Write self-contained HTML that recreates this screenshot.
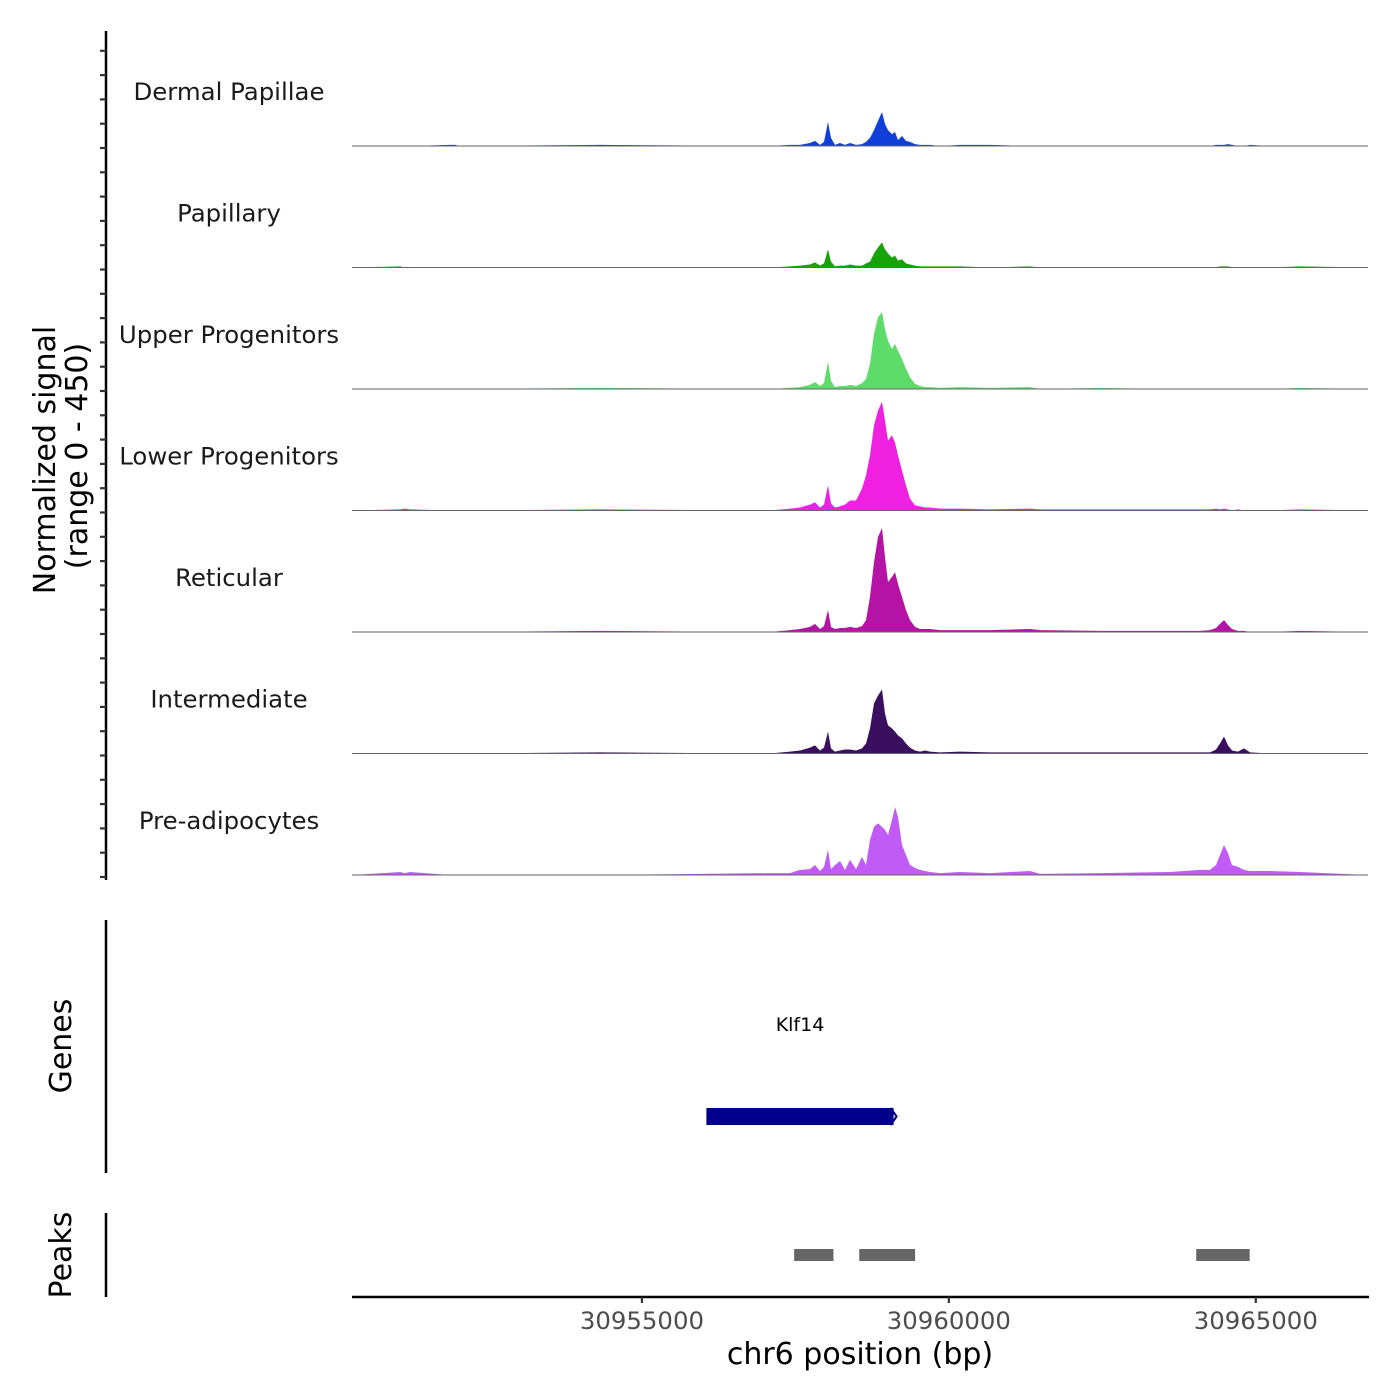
<!DOCTYPE html>
<html><head><meta charset="utf-8"><style>
html,body{margin:0;padding:0;background:#fff;}
svg{display:block;font-family:"DejaVu Sans","Liberation Sans",sans-serif;}
</style></head><body>
<svg id="chart" width="1400" height="1400" viewBox="0 0 1400 1400" xmlns="http://www.w3.org/2000/svg">
<g id="tracks"></g>
<g id="yaxis">
<line x1="106" y1="31" x2="106" y2="880" stroke="#000" stroke-width="2.5"/>
</g>
<text transform="translate(55,460) rotate(-90)" text-anchor="middle" font-size="30" fill="#000">Normalized signal</text>
<text transform="translate(87,456) rotate(-90)" text-anchor="middle" font-size="30" fill="#000">(range 0 - 450)</text>
<g>
<line x1="106" y1="920" x2="106" y2="1173" stroke="#000" stroke-width="2.5"/>
<text transform="translate(71,1046) rotate(-90)" text-anchor="middle" font-size="30" fill="#000">Genes</text>
<g id="genes"></g>
</g>
<g>
<line x1="106" y1="1213" x2="106" y2="1297" stroke="#000" stroke-width="2.5"/>
<text transform="translate(71,1255) rotate(-90)" text-anchor="middle" font-size="30" fill="#000">Peaks</text>
<g id="peaks"></g>
</g>
<g id="xaxis">
<line x1="352" y1="1297" x2="1369" y2="1297" stroke="#000" stroke-width="2.5"/>
</g>
<text x="860" y="1364" text-anchor="middle" font-size="30" fill="#000">chr6 position (bp)</text>
</svg>
<script>
const trackNames = ["Dermal Papillae","Papillary","Upper Progenitors","Lower Progenitors","Reticular","Intermediate","Pre-adipocytes"];
const trackColors = ["#0f3fd8","#16a30a","#5ddc6a","#f020e0","#b513a5","#3b0f5f","#c05cf5"];
const positions = [30950277,30951059,30951140,30951222,30951873,30951955,30952036,30954317,30957086,30957412,30957575,30957738,30957819,30957901,30957966,30958031,30958080,30958145,30958227,30958308,30958389,30958487,30958585,30958650,30958715,30958780,30958846,30958911,30958960,30959008,30959074,30959122,30959171,30959237,30959302,30959367,30959448,30959530,30959611,30959693,30959856,30960181,30960670,30961322,30961485,30962462,30963602,30964091,30964254,30964352,30964417,30964482,30964547,30964612,30964710,30964808,30964905,30965231,30965720,30966828];
const dermalPapillae = [0,0,0,0,4,4,0,4,0,4,4,11,19,4,15,89,30,4,11,4,11,4,7,15,30,59,93,126,81,59,44,52,22,37,19,15,7,4,4,4,0,4,4,0,0,0,0,0,0,4,4,4,7,4,0,0,4,0,0,0];
const papillary = [0,4,0,0,0,0,0,0,0,4,7,11,19,7,15,67,22,4,7,7,11,7,7,15,22,52,74,93,67,52,37,44,26,30,15,11,7,4,4,4,4,4,0,4,0,0,0,0,0,0,4,4,4,0,0,0,0,0,4,0];
const upperProgenitors = [0,0,0,0,0,0,0,4,0,4,7,15,26,11,22,100,30,7,11,11,15,11,22,37,93,204,266,285,222,178,148,167,141,111,74,44,19,11,7,7,4,7,4,7,0,4,0,0,0,0,0,0,0,0,0,0,0,0,4,0];
const lowerProgenitors = [0,4,7,4,0,0,0,4,0,7,11,22,30,11,22,93,26,11,15,22,37,37,81,130,204,315,370,403,333,259,278,252,204,148,93,44,19,15,11,11,7,7,4,7,4,4,4,4,4,7,4,7,4,0,4,0,0,0,4,0];
const reticular = [0,0,0,0,0,0,0,4,0,7,11,19,30,11,22,81,19,11,15,15,19,15,22,44,130,259,352,385,278,185,204,222,178,130,81,44,19,11,11,11,7,7,7,11,7,4,4,4,7,15,30,44,26,11,4,4,0,0,4,0];
const intermediate = [0,0,0,0,0,0,0,4,0,7,11,22,30,11,22,81,19,7,11,15,15,11,19,37,93,185,215,237,148,104,93,81,67,56,37,22,11,7,11,7,4,7,4,4,4,4,4,4,4,15,37,63,30,11,7,19,4,0,0,0];
const preAdipocytes = [0,11,7,11,0,0,0,0,7,7,19,22,37,15,30,93,22,37,52,19,56,22,67,37,130,178,192,178,167,148,204,252,215,111,74,37,26,19,15,11,7,11,7,15,4,7,11,19,19,37,74,111,81,37,30,19,15,15,11,0];
const seriesValues = [dermalPapillae,papillary,upperProgenitors,lowerProgenitors,reticular,intermediate,preAdipocytes];
const xTicks = [30955000,30960000,30965000];
const geneName = ["Klf14"];
const geneStart = [30956050];
const geneEnd = [30959100];
const peakStarts = [30957480,30958540,30964030];
const peakEnds = [30958120,30959450,30964900];

const NS="http://www.w3.org/2000/svg";
const X0=352,X1=1368,BP0=30950277,BP1=30966828;
const xScale = bp => X0 + (bp-BP0)/(BP1-BP0)*(X1-X0);
const trackH = 121.5, firstBase = 146, yMax = 450;
const yScale = (v,i) => firstBase + i*trackH - v/yMax*trackH;
function mk(tag, attrs, parent){const e=document.createElementNS(NS,tag);for(const k in attrs)e.setAttribute(k,attrs[k]);parent.appendChild(e);return e;}

const tracks=document.getElementById('tracks');
seriesValues.forEach((vals,i)=>{
  const base=firstBase+i*trackH;
  let d=`M${xScale(positions[0])},${base}`;
  vals.forEach((v,j)=>{d+=` L${xScale(positions[j]).toFixed(1)},${yScale(v,i).toFixed(1)}`;});
  d+=` L${xScale(positions[positions.length-1])},${base} Z`;
  const p=mk('path',{d:d,fill:trackColors[i]},tracks);
  
  
  const l=mk('line',{x1:X0,x2:X1,y1:base,y2:base,stroke:'#666','stroke-width':1},tracks);
  
  
  const t=mk('text',{x:229,y:base-46,'text-anchor':'middle','font-size':24.4,fill:'#1a1a1a'},tracks);
  t.textContent=trackNames[i];
  
  
});
const yaxis=document.getElementById('yaxis');
for(let y=firstBase+6*trackH+2; y>=40; y-=trackH/5){
  const tk=mk('line',{x1:100,x2:106,y1:y,y2:y,stroke:'#333','stroke-width':2.2},yaxis);
  
  
}
const genes=document.getElementById('genes');
geneName.forEach((g,i)=>{
  const x1=xScale(geneStart[i]),x2=xScale(geneEnd[i]);
  const r=mk('rect',{x:x1,y:1108,width:x2-x1,height:17,fill:'#00008b'},genes);
  
  
  const a=mk('path',{d:`M${x2-3},1108 L${x2+3},1116.5 L${x2-3},1125`,fill:'none',stroke:'#00008b','stroke-width':2},genes);
  
  
  const t=mk('text',{x:(x1+x2)/2,y:1031,'text-anchor':'middle','font-size':19,fill:'#000'},genes);
  t.textContent=g;
  
  
});
const peaks=document.getElementById('peaks');
peakStarts.forEach((s,i)=>{
  const r=mk('rect',{x:xScale(s),y:1249,width:xScale(peakEnds[i])-xScale(s),height:12,fill:'#666'},peaks);
  
  
});
const xaxis=document.getElementById('xaxis');
xTicks.forEach(v=>{
  const x=xScale(v);
  const tk=mk('line',{x1:x,x2:x,y1:1297,y2:1303,stroke:'#333','stroke-width':2.2},xaxis);
  
  
  const t=mk('text',{x:x,y:1329,'text-anchor':'middle','font-size':24.4,fill:'#4d4d4d'},xaxis);
  t.textContent=String(v);
  
  
});
</script>
</body></html>
